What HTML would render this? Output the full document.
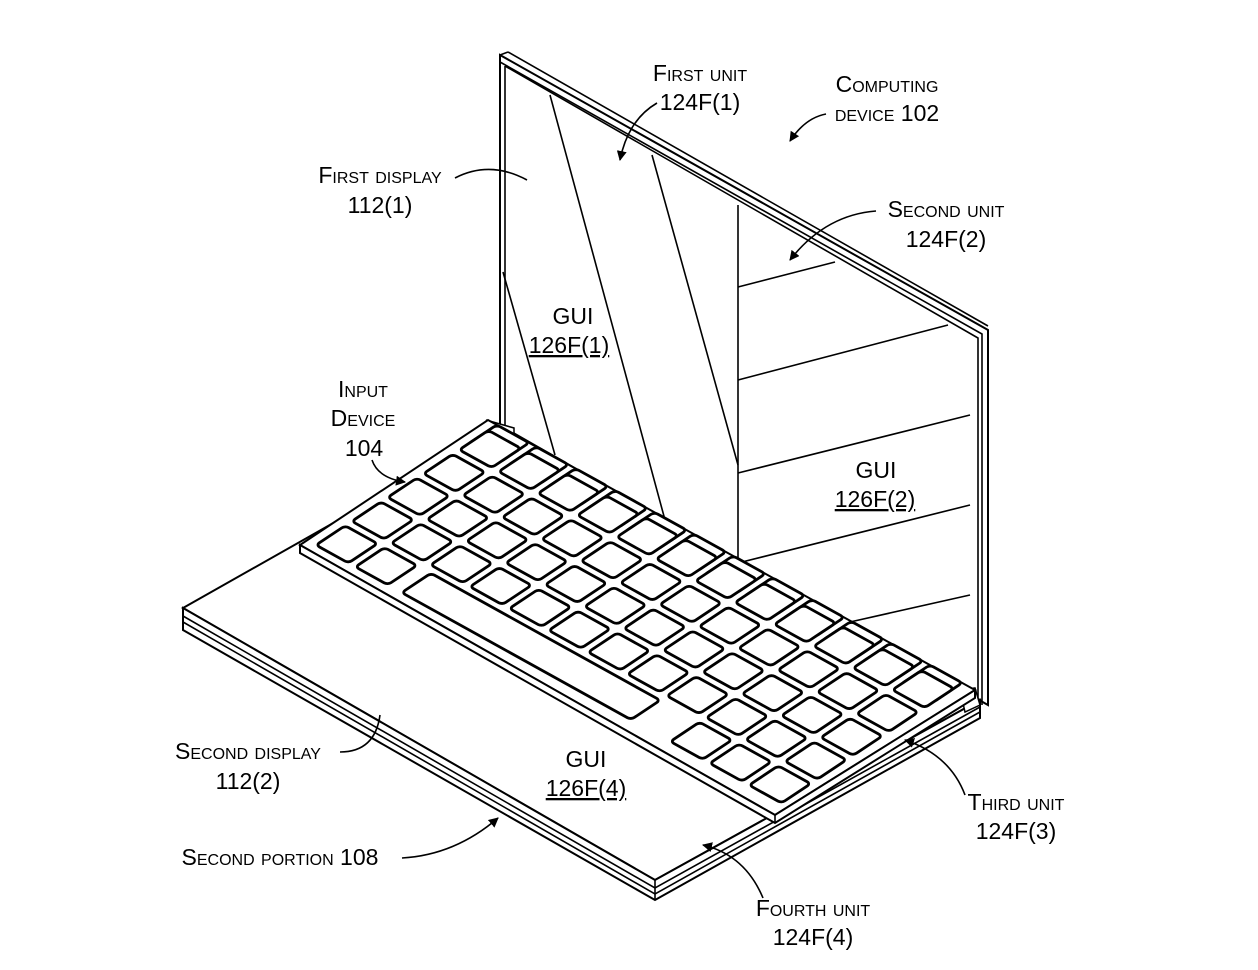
<!DOCTYPE html>
<html><head><meta charset="utf-8"><style>
html,body{margin:0;padding:0;background:#fff}
svg{display:block}
text{font-family:"Liberation Sans",Arial,sans-serif;font-size:23px;fill:#000;font-variant:small-caps}
.l{fill:none;stroke:#000;stroke-width:1.6}
.k{fill:#fff;stroke:#000;stroke-width:2.8;vector-effect:non-scaling-stroke}
</style></head><body>
<svg width="1258" height="970" viewBox="0 0 1258 970" xmlns="http://www.w3.org/2000/svg">
<defs>
<marker id="a" viewBox="0 0 10 10" refX="9" refY="5" markerWidth="10" markerHeight="10" orient="auto-start-reverse" markerUnits="userSpaceOnUse"><path d="M0,0 L10,5 L0,10 z" fill="#000"/></marker>
</defs>
<!-- screen -->
<polygon points="500,55 988,330 988,705 500,430" fill="#fff" stroke="#000" stroke-width="2"/>
<polyline class="l" points="500,62 982,334 982,705"/>
<polyline class="l" points="505,66 505,430"/>
<polyline class="l" points="505,66 978,338 978,705"/>
<line class="l" x1="500" y1="55" x2="508" y2="52"/>
<line class="l" x1="508" y1="52" x2="988" y2="326"/>
<!-- screen inner lines -->
<line class="l" x1="503" y1="272" x2="555" y2="455"/>
<line class="l" x1="550" y1="95" x2="665" y2="520"/>
<line class="l" x1="652" y1="155" x2="738" y2="465"/>
<line class="l" x1="738" y1="205" x2="738" y2="565"/>
<line class="l" x1="738" y1="287" x2="835" y2="262"/>
<line class="l" x1="738" y1="380" x2="948" y2="325"/>
<line class="l" x1="738" y1="473" x2="970" y2="415"/>
<line class="l" x1="738" y1="563" x2="970" y2="505"/>
<line class="l" x1="850" y1="622" x2="970" y2="595"/>
<!-- base -->
<polygon points="183,608 503,427 980,700 655,880" fill="#fff" stroke="#000" stroke-width="2"/>
<polygon points="183,608 655,880 980,700 980,718 655,900 183,630" fill="#fff" stroke="#000" stroke-width="2"/>
<polyline class="l" points="183,616 655,888 980,707"/>
<polyline class="l" points="183,622 655,894 980,712"/>
<line class="l" x1="655" y1="880" x2="655" y2="900"/>
<!-- hinge bits -->
<polygon points="960,690 975,688 980,705 965,712" fill="#fff" stroke="#000" stroke-width="1.5"/>
<polygon points="486,420 500,424 514,428 514,438 500,432" fill="#fff" stroke="#000" stroke-width="1.5"/>
<!-- keyboard body -->
<polygon points="300,545 488,420 975,690 775,815" fill="#fff" stroke="#000" stroke-width="2"/>
<polygon points="300,545 775,815 975,690 975,698 775,823 300,553" fill="#fff" stroke="#000" stroke-width="2"/>
<line class="l" x1="775" y1="815" x2="775" y2="823"/>
<!-- keys -->
<g transform="matrix(0.875,0.485,-0.833,0.554,488,420)">
<defs><rect id="kk" width="37" height="35" rx="4" class="k"/><rect id="ks" width="262" height="35" rx="4" class="k"/></defs>
<g id="row">
<use href="#kk" x="10"/><use href="#kk" x="55"/><use href="#kk" x="100"/><use href="#kk" x="145"/><use href="#kk" x="190"/><use href="#kk" x="235"/><use href="#kk" x="280"/><use href="#kk" x="325"/><use href="#kk" x="370"/><use href="#kk" x="415"/><use href="#kk" x="460"/><use href="#kk" x="505"/>
</g>
<use href="#row" y="10"/><use href="#row" y="53"/><use href="#row" y="96"/><use href="#row" y="139"/>
<use href="#kk" x="10" y="182"/><use href="#kk" x="55" y="182"/>
<use href="#ks" x="108" y="182"/>
<use href="#kk" x="415" y="182"/><use href="#kk" x="460" y="182"/><use href="#kk" x="505" y="182"/>
</g>
<!-- labels -->
<text x="700" y="81" text-anchor="middle">First unit</text>
<text x="700" y="110" text-anchor="middle">124F(1)</text>
<text x="887" y="92" text-anchor="middle">Computing</text>
<text x="887" y="121" text-anchor="middle">device 102</text>
<text x="380" y="183" text-anchor="middle">First display</text>
<text x="380" y="213" text-anchor="middle">112(1)</text>
<text x="946" y="217" text-anchor="middle">Second unit</text>
<text x="946" y="247" text-anchor="middle">124F(2)</text>
<text x="573" y="324" text-anchor="middle">GUI</text>
<text x="569" y="353" text-anchor="middle" text-decoration="underline">126F(1)</text>
<text x="363" y="397" text-anchor="middle">Input</text>
<text x="363" y="426" text-anchor="middle">Device</text>
<text x="364" y="456" text-anchor="middle">104</text>
<text x="876" y="478" text-anchor="middle">GUI</text>
<text x="875" y="507" text-anchor="middle" text-decoration="underline">126F(2)</text>
<text x="248" y="759" text-anchor="middle">Second display</text>
<text x="248" y="789" text-anchor="middle">112(2)</text>
<text x="586" y="767" text-anchor="middle">GUI</text>
<text x="586" y="796" text-anchor="middle" text-decoration="underline">126F(4)</text>
<text x="1016" y="810" text-anchor="middle">Third unit</text>
<text x="1016" y="839" text-anchor="middle">124F(3)</text>
<text x="280" y="865" text-anchor="middle">Second portion 108</text>
<text x="813" y="916" text-anchor="middle">Fourth unit</text>
<text x="813" y="945" text-anchor="middle">124F(4)</text>
<!-- leaders -->
<path class="l" d="M657,103 Q628,120 620,160" marker-end="url(#a)"/>
<path class="l" d="M826,114 Q805,118 790,141" marker-end="url(#a)"/>
<path class="l" d="M455,178 Q490,160 527,180"/>
<path class="l" d="M876,211 Q825,215 790,260" marker-end="url(#a)"/>
<path class="l" d="M372,460 Q378,478 405,482" marker-end="url(#a)"/>
<path class="l" d="M340,752 Q375,752 380,715"/>
<path class="l" d="M402,858 Q455,855 498,818" marker-end="url(#a)"/>
<path class="l" d="M965,795 Q950,755 905,740" marker-end="url(#a)"/>
<path class="l" d="M763,898 Q745,855 703,845" marker-end="url(#a)"/>
</svg>
</body></html>
